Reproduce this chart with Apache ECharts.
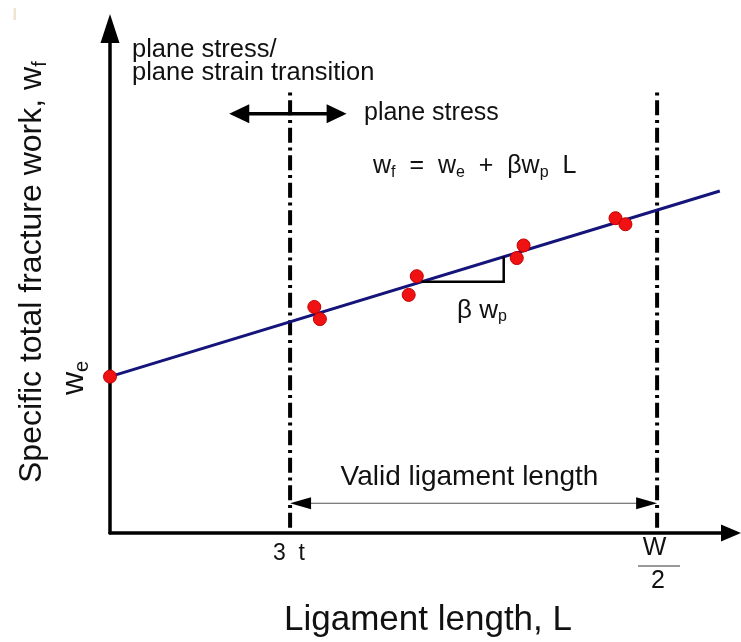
<!DOCTYPE html>
<html>
<head>
<meta charset="utf-8">
<script src="https://cdn.jsdelivr.net/npm/echarts@6/dist/echarts.min.js"></script>
<style>
  html, body { margin: 0; padding: 0; background: #ffffff; }
  #chart { width: 741px; height: 642px; }
</style>
</head>
<body>
<div id="chart"></div>
<script>
// Schematic units for ligament length L (x) and specific fracture work w_f (y)
const lRange = [0, 100];
const wRange = [0, 100];

// Specific total fracture work measured at each ligament length
const ligamentLengths = [32.9, 33.8, 48.1, 49.4, 65.5, 66.6, 81.4, 83.0];
const fractureWork    = [44.8, 42.4, 47.2, 50.9, 54.5, 57.0, 62.4, 61.2];

// Essential work of fracture w_e: intercept at L = 0
const essentialWork = [[0, 31.0]];

// Regression line w_f = w_e + beta*w_p*L
const fitLine = [[0, 31.0], [98.2, 67.8]];

// Slope step drawn under the regression line (beta*w_p)
const slopeStep = [[50.2, 49.8], [63.4, 49.8], [63.4, 54.8]];

// Validity limits of the ligament length: 3t and W/2
const limitL = [29.0, 88.1];
const limitTop = 87.3;

// Arrows: [L start, w start, L end, w end]
const stressArrows = [[29.0, 83.1, 19.2, 83.1], [29.0, 83.1, 38.1, 83.1]];
const validArrow = [[29.0, 5.9, 88.1, 5.9]];

const FONT = "'Liberation Sans', Arial, Helvetica, sans-serif";
const INK = '#111111';

// Text with optional {s|...} subscripts
function label(text, x, y, size, opts) {
  opts = opts || {};
  const sub = Math.round(size * 0.62);
  const drop = opts.drop != null ? opts.drop : size * 0.18;
  const lh = 2 * (0.35 * size + drop + 0.15 * sub);
  const align = opts.align || 'left';
  return {
    type: 'text', x: x, y: y, rotation: opts.rotation || 0, z: 100, silent: true,
    style: {
      text: text, fill: opts.color || INK, fontFamily: FONT, fontSize: size,
      lineHeight: lh,
      align: align, verticalAlign: 'middle',
      textAlign: align, textVerticalAlign: 'middle',
      rich: { s: { fontSize: sub, lineHeight: sub, verticalAlign: 'bottom', fontFamily: FONT, fill: opts.color || INK } }
    }
  };
}

// Arrow renderer for custom series
function arrowRenderer(width, color, headLen, headWid, both, shaftColor) {
  return function (params, api) {
    const p1 = api.coord([api.value(0), api.value(1)]);
    const p2 = api.coord([api.value(2), api.value(3)]);
    const dx = p2[0] - p1[0], dy = p2[1] - p1[1];
    const len = Math.sqrt(dx * dx + dy * dy);
    const ux = dx / len, uy = dy / len, nx = -uy, ny = ux;
    function head(tip, dirx, diry) {
      const bx = tip[0] - dirx * headLen, by = tip[1] - diry * headLen;
      return {
        type: 'polygon',
        shape: { points: [tip, [bx + nx * headWid / 2, by + ny * headWid / 2], [bx - nx * headWid / 2, by - ny * headWid / 2]] },
        style: { fill: color }
      };
    }
    const s = both ? [p1[0] + ux * headLen * 0.5, p1[1] + uy * headLen * 0.5] : p1;
    const e = [p2[0] - ux * headLen * 0.5, p2[1] - uy * headLen * 0.5];
    const children = [
      { type: 'line', shape: { x1: s[0], y1: s[1], x2: e[0], y2: e[1] }, style: { stroke: shaftColor || color, lineWidth: width } },
      head(p2, ux, uy)
    ];
    if (both) children.push(head(p1, -ux, -uy));
    return { type: 'group', children: children };
  };
}

const chart = echarts.init(document.getElementById('chart'), null, { renderer: 'canvas' });

const hiddenAxisParts = {
  axisTick: { show: false },
  axisLabel: { show: false },
  splitLine: { show: false }
};

chart.setOption({
  animation: false,
  backgroundColor: '#ffffff',
  grid: { left: 110, right: 10, top: 28.5, bottom: 109, containLabel: false },
  xAxis: Object.assign({
    type: 'value', min: lRange[0], max: lRange[1],
    axisLine: {
      show: true, onZero: false,
      symbol: ['none', 'triangle'], symbolSize: [17, 20],
      lineStyle: { color: '#000', width: 3.5 }
    }
  }, hiddenAxisParts),
  yAxis: Object.assign({
    type: 'value', min: wRange[0], max: wRange[1],
    axisLine: {
      show: true, onZero: false,
      symbol: ['none', 'triangle'], symbolSize: [19, 29],
      lineStyle: { color: '#000', width: 3.5 }
    }
  }, hiddenAxisParts),
  series: [
    {
      name: '3t', type: 'line', silent: true, symbol: 'none', clip: false, z: 3,
      data: [[limitL[0], limitTop], [limitL[0], wRange[0]]],
      lineStyle: { color: '#000', width: 4, type: [3, 4.75, 15, 4.75] }
    },
    {
      name: 'W/2', type: 'line', silent: true, symbol: 'none', clip: false, z: 3,
      data: [[limitL[1], limitTop], [limitL[1], wRange[0]]],
      lineStyle: { color: '#000', width: 4, type: [3, 4.75, 15, 4.75] }
    },
    {
      name: 'fit', type: 'line', silent: true, symbol: 'none', clip: false, z: 4,
      data: fitLine,
      lineStyle: { color: '#14147a', width: 3 }
    },
    {
      name: 'slope', type: 'line', silent: true, symbol: 'none', clip: false, z: 4,
      data: slopeStep,
      lineStyle: { color: '#000', width: 2.5, join: 'miter' }
    },
    {
      name: 'measured', type: 'scatter', silent: true, clip: false, z: 6,
      symbolSize: 13,
      data: ligamentLengths.map((l, i) => [l, fractureWork[i]]),
      itemStyle: { color: '#f01212', borderColor: '#c40000', borderWidth: 1, opacity: 1 }
    },
    {
      name: 'we', type: 'scatter', silent: true, clip: false, z: 6,
      symbolSize: 13,
      data: essentialWork,
      itemStyle: { color: '#f01212', borderColor: '#c40000', borderWidth: 1, opacity: 1 }
    },
    {
      name: 'stressArrows', type: 'custom', silent: true, clip: false, z: 5,
      data: stressArrows,
      renderItem: arrowRenderer(3.5, '#000', 20, 19, false)
    },
    {
      name: 'validArrow', type: 'custom', silent: true, clip: false, z: 5,
      data: validArrow,
      renderItem: arrowRenderer(1.2, '#000', 21, 12, true, '#555')
    }
  ],
  graphic: [
    label('plane stress/', 132, 49.6, 25.5),
    label('plane strain transition', 132, 73, 25.5),
    label('plane stress', 364, 113.3, 25),
    label('w{s|f}  =  w{s|e}  +  βw{s|p}  L', 373, 166.3, 25, { drop: 3 }),
    label('β w{s|p}', 457, 310.5, 26, { drop: 3 }),
    label('w{s|e}', 74, 395, 32, { rotation: Math.PI / 2, drop: 4 }),
    label('Specific total fracture work, w{s|f}', 32, 483, 32, { rotation: Math.PI / 2, drop: 4 }),
    label('3  t', 289, 554, 23, { align: 'center' }),
    label('W', 654.5, 548.5, 25, { align: 'center' }),
    label('2', 658, 581.5, 25, { align: 'center' }),
    {
      type: 'line', silent: true, z: 100,
      shape: { x1: 638, y1: 566, x2: 680, y2: 566 },
      style: { stroke: '#777', lineWidth: 1.5 }
    },
    label('Valid ligament length', 469.5, 477.5, 28, { align: 'center' }),
    label('Ligament length, L', 428, 620, 35, { align: 'center' }),
    {
      type: 'rect', silent: true, z: 100,
      shape: { x: 13.5, y: 8, width: 2.5, height: 12 },
      style: { fill: '#efe4d2' }
    }
  ]
});
</script>
</body>
</html>
